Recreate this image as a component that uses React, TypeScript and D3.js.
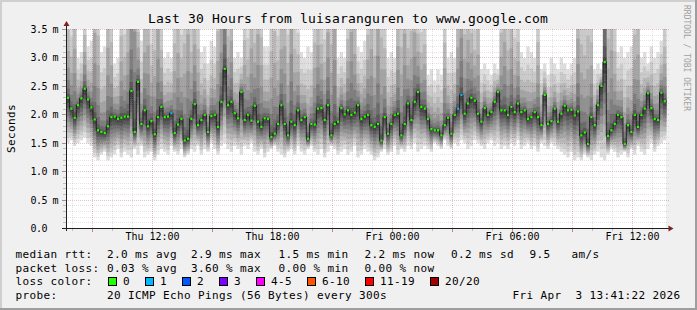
import React from "react";
import * as d3 from "d3";

const W = 697;
const H = 310;

const startTime = Date.UTC(2026, 3, 2, 7, 41, 22);
const endTime = Date.UTC(2026, 3, 3, 13, 41, 22);
const stepMs = 600000;

// median rtt per 10-minute sample (ms)
const medianMs = [
  2.30, 2.11, 1.95, 2.17, 2.29, 2.46, 2.27, 2.13, 1.92, 1.73,
  1.70, 1.68, 1.80, 1.96, 1.97, 1.93, 1.95, 1.97, 1.97, 2.42,
  1.70, 2.58, 1.84, 2.08, 1.80, 1.89, 1.66, 1.96, 2.14, 1.96,
  1.97, 2.03, 1.68, 1.83, 1.93, 1.55,
  1.58, 1.93, 2.19, 1.82, 1.91, 2.00, 1.70, 1.98, 2.00, 1.79,
  2.23, 2.81, 2.17, 2.23, 2.03, 1.94, 2.40, 1.91, 2.00, 1.90,
  2.16, 1.88, 1.79, 1.94, 1.93, 1.61, 1.67, 1.84, 2.17, 1.84,
  1.64, 1.88, 1.82, 2.08, 1.91, 1.96,
  1.58, 1.84, 1.83, 2.11, 2.12, 1.91, 2.17, 1.64, 1.84, 1.88,
  2.12, 2.01, 2.08, 2.00, 2.04, 2.17, 1.93, 1.97, 2.00, 1.82,
  1.79, 1.84, 1.55, 1.96, 1.67, 1.84, 2.00, 2.02, 1.64, 1.84,
  2.20, 1.91, 2.23, 2.40, 2.14, 2.11,
  1.93, 1.75, 1.73, 1.73, 1.64, 1.82, 1.95, 1.67, 2.00, 2.11,
  2.35, 2.02, 2.20, 2.30, 2.25, 2.02, 1.88, 2.12, 2.00, 2.05,
  2.23, 2.40, 2.08, 2.08, 2.00, 2.14, 2.05, 2.20, 2.05, 2.08,
  1.93, 1.96, 2.05, 1.96, 1.82, 2.35,
  1.84, 1.89, 2.11, 1.88, 2.02, 2.16, 2.08, 2.09, 1.99, 2.06,
  1.64, 1.69, 1.49, 1.96, 1.82, 2.17, 2.51, 2.93, 1.63, 1.73,
  1.84, 2.00, 1.96, 1.49, 1.82, 1.70, 2.00, 1.79, 2.00, 2.11,
  2.38, 2.12, 1.93, 1.91, 2.39, 2.24,
];

// fastest ping per sample (ms)
const minMs = [
  1.50, 1.55, 1.45, 1.50, 1.55, 1.60, 1.50, 1.45,
  1.25, 1.20, 1.30, 1.35, 1.20, 1.25, 1.30, 1.40, 1.25, 1.35, 1.30, 1.25, 1.40,
  1.30, 1.45, 1.25, 1.30, 1.35, 1.20, 1.30, 1.40, 1.35, 1.30, 1.45, 1.35, 1.30, 1.40, 1.25, 1.30, 1.40, 1.35, 1.45, 1.30,
  1.40, 1.35, 1.50, 1.40, 1.30, 1.45, 1.50, 1.40, 1.35, 1.45, 1.40, 1.30, 1.45, 1.40, 1.50, 1.35, 1.30, 1.40, 1.25, 1.35, 1.40, 1.45, 1.35, 1.30,
  1.25, 1.35, 1.40, 1.30, 1.45, 1.35, 1.30, 1.40, 1.45, 1.35, 1.30, 1.40, 1.25, 1.35, 1.45, 1.40, 1.30, 1.35,
  1.40, 1.30, 1.35, 1.45, 1.25, 1.30, 1.40, 1.35, 1.30, 1.20, 1.25, 1.35, 1.40, 1.30, 1.35, 1.45, 1.30, 1.40, 1.35, 1.45, 1.40, 1.50, 1.35, 1.40,
  1.45, 1.40, 1.35, 1.50, 1.45, 1.40, 1.55, 1.45, 1.40, 1.50, 1.45, 1.55, 1.50, 1.40, 1.45, 1.55, 1.50, 1.45, 1.40, 1.50, 1.55, 1.45, 1.50, 1.40,
  1.45, 1.40, 1.50, 1.45, 1.55, 1.40, 1.45, 1.50, 1.40, 1.45, 1.35, 1.50, 1.45, 1.40, 1.50, 1.45, 1.40, 1.35,
  1.30, 1.25, 1.35, 1.20, 1.25, 1.20, 1.30, 1.25, 1.20, 1.30, 1.35, 1.25, 1.20, 1.30, 1.40, 1.35, 1.25, 1.30,
  1.35, 1.25, 1.40, 1.30, 1.45, 1.35, 1.30, 1.40, 1.50, 1.35, 1.45, 1.50, 1.55,
];

// slowest ping per sample (ms)
const maxMs = [
  4.5, 3.8, 5.2, 3.0, 3.1, 4.2, 3.2, 3.3, 6.0, 4.8,
  3.1, 3.2, 5.5, 4.4, 2.9, 3.0, 4.6, 3.9, 5.0, 7.5,
  9.0, 4.2, 3.3, 4.8, 5.6, 3.7, 4.4, 6.2, 4.0, 3.0,
  3.1, 3.0, 4.6, 5.2, 3.9, 4.7, 6.5, 4.1, 5.0, 4.3,
  3.1, 3.2, 2.9, 3.3, 3.2, 4.9, 5.8, 8.5, 4.4, 5.1,
  3.0, 3.1, 3.0, 4.5, 3.8, 5.3, 4.2, 6.0, 4.7, 3.2,
  3.2, 4.4, 5.0, 3.9, 4.8, 5.5, 4.0, 6.8, 4.3, 3.9,
  3.1, 3.0, 3.2, 3.1, 4.5, 5.1, 4.2, 3.8, 5.6, 4.6,
  6.5, 3.0, 3.1, 3.0, 4.4, 5.9, 4.8, 3.2, 3.1, 3.3,
  4.6, 5.4, 4.1, 6.8, 4.9, 4.2, 3.0, 3.1, 3.0, 5.2,
  4.5, 6.1, 4.0, 4.8, 5.5, 4.3, 3.9, 4.2, 2.7, 2.8,
  2.6, 2.8, 2.7, 4.5, 3.0, 3.1, 3.0, 5.0, 6.5, 4.6,
  5.2, 4.4, 3.9, 4.8, 2.8, 2.9, 2.8, 2.7, 2.9, 2.8,
  4.6, 5.3, 4.1, 4.9, 3.8, 4.2, 3.1, 3.0, 3.2, 3.1,
  3.0, 4.4, 2.8, 2.9, 2.7, 3.0, 2.9, 2.8, 3.0, 2.9,
  2.8, 2.9, 3.0, 5.5, 4.6, 4.2, 5.0, 4.4, 2.8, 2.9,
  2.8, 12.0, 4.8, 5.5, 4.2, 3.1, 3.2, 3.0, 3.1, 3.2,
  4.6, 5.2, 3.0, 3.1, 2.9, 3.2, 3.0, 3.1, 3.3, 4.0,
];

// samples with lost pings (index, count of 20)
const lossIndex = [31, 117, 118];
const lossCount = [1, 1, 1];

const lossLabels = ["0", "1", "2", "3", "4-5", "6-10", "11-19", "20/20"];
const lossColors = ["#26ff00", "#00b8ff", "#0059ff", "#7e00ff", "#ff00ff", "#ff5500", "#ff0000", "#a10000"];

const yTickValues = [0, 0.5, 1, 1.5, 2, 2.5, 3, 3.5];
const yTickLabels = ["0.0", "0.5 m", "1.0 m", "1.5 m", "2.0 m", "2.5 m", "3.0 m", "3.5 m"];
const xTickTimes = [
  Date.UTC(2026, 3, 2, 12), Date.UTC(2026, 3, 2, 18), Date.UTC(2026, 3, 3, 0),
  Date.UTC(2026, 3, 3, 6), Date.UTC(2026, 3, 3, 12),
];
const xTickLabels = ["Thu 12:00", "Thu 18:00", "Fri 00:00", "Fri 06:00", "Fri 12:00"];

const title = "Last 30 Hours from luisaranguren to www.google.com";
const rttItems = ["2.0 ms avg", "2.9 ms max", "1.5 ms min", "2.2 ms now", "0.2 ms sd", "9.5", "am/s"];
const lossItems = ["0.03 % avg", "3.60 % max", "0.00 % min", "0.00 % now"];
const probeText = "20 ICMP Echo Pings (56 Bytes) every 300s";
const dateText = "Fri Apr  3 13:41:22 2026";

const MONO = "'DejaVu Sans Mono', monospace";

export default function App() {
  const x = d3.scaleUtc().domain([startTime, endTime]).range([66.3, 666.3]);
  const y = d3.scaleLinear().domain([0, 3.5]).range([228.5, 29.5]);
  const plotL = 66, plotR = 666, plotT = 29, plotB = 228.5;
  const snap = (v: number) => Math.floor(v) + 0.5;

  const n = medianMs.length;
  const sx = (i: number) => x(startTime + i * stepMs);

  // smoke bands (nested like smokeping: outermost lightest)
  const bands: JSX.Element[] = [];
  for (let k = 1; k <= 10; k++) {
    const t = (10.5 - k) / 9.5;
    const g = 19 * (10 - k) + 50;
    const col = d3.rgb(g, g, g).formatHex();
    for (let i = 0; i < n; i++) {
      const med = medianMs[i];
      const lo = med - (med - minMs[i]) * Math.pow(t, 1.15);
      const hi = med + (maxMs[i] - med) * Math.pow(t, 2.6);
      const y0 = Math.max(y(Math.min(hi, 3.6)), plotT);
      const y1 = y(lo);
      bands.push(
        <rect key={`b${k}-${i}`} x={sx(i)} y={y0} width={sx(i + 1) - sx(i) + 0.05} height={Math.max(0, y1 - y0)} fill={col} />
      );
    }
  }

  const pts: [number, number][] = medianMs.map((m, i) => [sx(i), y(m)]);
  pts.push([sx(n), y(medianMs[n - 1])]);
  const medLine = d3.line().curve(d3.curveStepAfter)(pts) || "";

  const lossAt = (i: number) => {
    const j = lossIndex.indexOf(i);
    return j < 0 ? 0 : lossCount[j];
  };
  const colorFor = (c: number) => (c === 0 ? lossColors[0] : c === 1 ? lossColors[1] : c === 2 ? lossColors[2] : c === 3 ? lossColors[3] : c <= 5 ? lossColors[4] : c <= 10 ? lossColors[5] : c <= 19 ? lossColors[6] : lossColors[7]);

  // grid
  const minorY: number[] = [];
  for (let v = 1; v < 35; v++) if (v % 5 !== 0) minorY.push(v / 10);
  const hourMs = 3600000;
  const firstHour = Math.ceil(startTime / hourMs) * hourMs;
  const hours: number[] = [];
  for (let t = firstHour; t <= endTime; t += hourMs) hours.push(t);
  const minorColor = "rgba(140,140,140,0.24)";
  const majorColor = "rgba(130,30,30,0.26)";

  // legend swatch positions
  const swatchX: number[] = [];
  let cx = 108;
  lossLabels.forEach((l) => { swatchX.push(cx); cx += 30 + 7 * l.length; });

  const rttX = [107, 191, 278.5, 364.5, 451, 529.5, 571.5];
  const lossX = [107, 191, 278.5, 364.5];
  const legStyle = { fontFamily: MONO, fontSize: 11, letterSpacing: 0.38 } as React.CSSProperties;

  return (
    <svg width={W} height={H} style={{ display: "block", position: "absolute", left: 0, top: 0 }}>
      <rect x={0} y={0} width={W} height={H} fill="#f0f0f0" />
      <rect x={0} y={0} width={W} height={2} fill="#cfcfcf" />
      <rect x={0} y={0} width={2} height={H} fill="#cfcfcf" />
      <rect x={0} y={H - 2} width={W} height={2} fill="#9e9e9e" />
      <rect x={W - 2} y={0} width={2} height={H} fill="#9e9e9e" />
      <rect x={plotL} y={plotT} width={plotR - plotL} height={plotB - plotT} fill="#ffffff" />

      {bands}
      <path d={medLine} fill="none" stroke="#202020" strokeWidth={1} />
      {medianMs.map((m, i) => (
        <rect key={`m${i}`} x={(sx(i) + sx(i + 1)) / 2 - 1} y={y(m) - 1} width={2.2} height={2.2} fill={colorFor(lossAt(i))} />
      ))}

      {/* grid on top */}
      <g strokeDasharray="1,1" strokeWidth={1}>
        {minorY.map((v) => (
          <line key={`hy${v}`} x1={plotL} x2={plotR + 3} y1={snap(y(v))} y2={snap(y(v))} stroke={minorColor} />
        ))}
        {hours.filter((t) => new Date(t).getUTCHours() % 3 !== 0).map((t) => (
          <line key={`vx${t}`} x1={snap(x(t))} x2={snap(x(t))} y1={plotT} y2={plotB} stroke={minorColor} />
        ))}
        {yTickValues.slice(1).map((v) => (
          <line key={`My${v}`} x1={plotL} x2={plotR + 3} y1={snap(y(v))} y2={snap(y(v))} stroke={majorColor} />
        ))}
        {hours.filter((t) => new Date(t).getUTCHours() % 3 === 0).map((t) => (
          <line key={`Mx${t}`} x1={snap(x(t))} x2={snap(x(t))} y1={plotT} y2={plotB} stroke={majorColor} />
        ))}
      </g>
      {/* ticks */}
      {minorY.map((v) => (
        <line key={`ty${v}`} x1={63} x2={66} y1={snap(y(v))} y2={snap(y(v))} stroke="rgba(140,140,140,0.5)" />
      ))}
      {yTickValues.slice(1).map((v) => (
        <line key={`tY${v}`} x1={62} x2={66} y1={snap(y(v))} y2={snap(y(v))} stroke="rgba(130,30,30,0.5)" />
      ))}
      {hours.map((t) => (
        <line key={`tx${t}`} x1={snap(x(t))} x2={snap(x(t))} y1={228} y2={new Date(t).getUTCHours() % 3 === 0 ? 232 : 231}
          stroke={new Date(t).getUTCHours() % 3 === 0 ? "rgba(130,30,30,0.5)" : "rgba(140,140,140,0.5)"} />
      ))}

      {/* axes */}
      <line x1={62} x2={669} y1={228.5} y2={228.5} stroke="#1f1f1f" />
      <line x1={66.5} x2={66.5} y1={231} y2={25} stroke="#1f1f1f" />
      <path d="M668.5,225.5 L673.5,228.5 L668.5,231.5 Z" fill="#7f1f1f" />
      <path d="M63.5,26 L66.5,21 L69.5,26 Z" fill="#7f1f1f" />

      {/* axis labels */}
      {yTickValues.map((v, i) => (
        <text key={`yl${v}`} x={30.5} y={snap(y(v)) + 3.5} fontFamily={MONO} fontSize={10} letterSpacing={-0.55} fill="#000">{yTickLabels[i]}</text>
      ))}
      {xTickTimes.map((t, i) => (
        <text key={`xl${t}`} x={snap(x(t))} y={240} textAnchor="middle" fontFamily={MONO} fontSize={10} fill="#000">{xTickLabels[i]}</text>
      ))}

      <text x={348} y={23} textAnchor="middle" fontFamily={MONO} fontSize={13} letterSpacing={0.17} fill="#000">{title}</text>
      <text transform="translate(15,128.5) rotate(-90)" textAnchor="middle" style={legStyle} fill="#000">Seconds</text>
      <text transform="translate(684,5) rotate(90)" fontFamily={MONO} fontSize={8} fill="#a0a0a0">RRDTOOL / TOBI OETIKER</text>

      {/* legend */}
      <text x={15.5} y={258} style={legStyle}>median rtt:</text>
      {rttItems.map((s, i) => (
        <text key={`r${i}`} x={rttX[i]} y={258} style={legStyle}>{s}</text>
      ))}
      <text x={15.5} y={271.5} style={legStyle}>packet loss:</text>
      {lossItems.map((s, i) => (
        <text key={`l${i}`} x={lossX[i]} y={271.5} style={legStyle}>{s}</text>
      ))}
      <text x={15.5} y={285.2} style={legStyle}>loss color:</text>
      {lossLabels.map((l, i) => (
        <g key={`s${i}`}>
          <rect x={swatchX[i] + 0.5} y={277.5} width={8} height={8} fill={lossColors[i]} stroke="#000" strokeWidth={1} />
          <text x={swatchX[i] + 15} y={285.2} style={legStyle}>{l}</text>
        </g>
      ))}
      <text x={15.5} y={299} style={legStyle}>probe:</text>
      <text x={107} y={299} style={legStyle}>{probeText}</text>
      <text x={512.5} y={299} style={{ ...legStyle, whiteSpace: "pre" }}>{dateText}</text>
    </svg>
  );
}
